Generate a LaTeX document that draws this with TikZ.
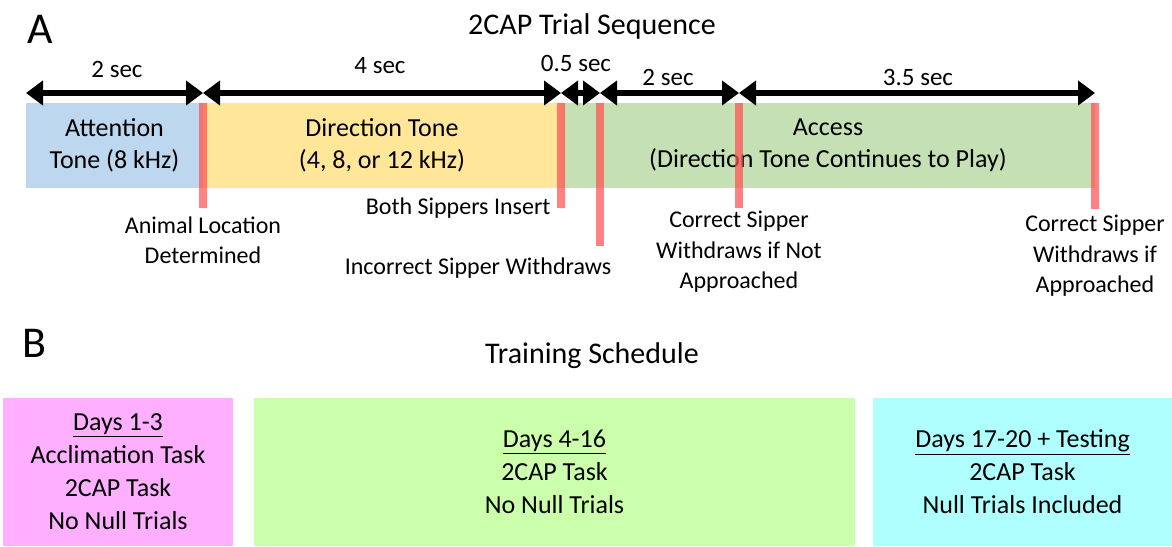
\documentclass[tikz,border=0pt]{standalone}
\usepackage{fontspec}
\setmainfont{Carlito}
\usepackage{tikz}
\usetikzlibrary{arrows.meta}
\definecolor{attblue}{RGB}{189,215,238}
\definecolor{dirgold}{RGB}{255,230,153}
\definecolor{accgreen}{RGB}{197,224,180}
\definecolor{markred}{RGB}{255,80,80}
\definecolor{daypink}{RGB}{255,175,255}
\definecolor{daylime}{RGB}{204,255,172}
\definecolor{daycyan}{RGB}{175,255,255}
\tikzset{
  phase/.style={rectangle, inner sep=0pt, align=center,
    minimum height=85pt, font=\fontsize{26}{32}\selectfont},
  daybox/.style={rectangle, inner sep=0pt, align=center,
    minimum height=148pt, font=\fontsize{26}{33}\selectfont},
  marker/.style={line width=8pt, color=markred, opacity=0.72},
  span/.style={{Triangle[length=17pt,width=24pt]}-{Triangle[length=17pt,width=24pt]},
    line width=6pt, color=black},
  seclabel/.style={anchor=base, font=\fontsize{25}{30}\selectfont},
  event/.style={align=center, font=\fontsize{24}{30.5}\selectfont},
  heading/.style={font=\fontsize{30}{36}\selectfont},
  panel/.style={font=\fontsize{44}{50}\selectfont}
}

\begin{document}
\begin{tikzpicture}[x=1pt, y=-1pt]
  \useasboundingbox (0,0) rectangle (1172,546);

  % Panel A
  \node[panel] (pa) at (40,29) {A};
  \node[heading] (trialttl) at (592,27) {2CAP Trial Sequence};

  % Phase bars
  \node[phase, fill=attblue, minimum width=177pt] (att) at (114.5,145.5) {Attention\\Tone (8 kHz)};
  \node[phase, fill=dirgold, minimum width=358pt] (dir) at (382,145.5) {Direction Tone\\(4, 8, or 12 kHz)};
  \node[phase, fill=accgreen, minimum width=534pt] (acc) at (828,145.5) {Access\\(Direction Tone Continues to Play)};

  % Time points
  \coordinate (t0) at (26,93);
  \coordinate (t1) at (203,93);
  \coordinate (t2) at (561,93);
  \coordinate (t3) at (600,93);
  \coordinate (t4) at (739,93);
  \coordinate (t5) at (1095,93);

  % Durations
  \draw[span] (t0) -- (t1);
  \draw[span] (t1) -- (t2);
  \draw[span] (t2) -- (t3);
  \draw[span] (t3) -- (t4);
  \draw[span] (t4) -- (t5);
  \node[seclabel] (d1) at (117,77) {2 sec};
  \node[seclabel] (d2) at (380,73) {4 sec};
  \node[seclabel] (d3) at (576,71) {0.5 sec};
  \node[seclabel] (d4) at (668,85) {2 sec};
  \node[seclabel] (d5) at (918,85) {3.5 sec};

  % Event markers (red)
  \coordinate (m1) at (203,208);
  \coordinate (m2) at (561,208);
  \coordinate (m3a) at (600,103);
  \coordinate (m3) at (600,246);
  \coordinate (m4a) at (739,103);
  \coordinate (m4) at (739,208);
  \coordinate (m5) at (1095,209);
  \draw[marker] (att.north east) -- (m1);
  \draw[marker] (dir.north east) -- (m2);
  \draw[marker] (m3a) -- (m3);
  \draw[marker] (m4a) -- (m4);
  \draw[marker] (acc.north east) -- (m5);

  % Event labels
  \node[event] (e1) at (203,240.5) {Animal Location\\Determined};
  \node[event, anchor=east] (e2) at (554,208) {Both Sippers Insert};
  \node[event] (e3) at (478,268) {Incorrect Sipper Withdraws};
  \node[event] (e4) at (739,252) {Correct Sipper\\Withdraws if Not\\Approached};
  \node[event] (e5) at (1095,256) {Correct Sipper\\Withdraws if\\Approached};

  % Panel B
  \node[panel] (pb) at (34,343) {B};
  \node[heading] (schedttl) at (592,356) {Training Schedule};

  % Training stages
  \node[daybox, fill=daypink, minimum width=230pt] (s1) at (118,472)
    {\underline{Days 1-3}\\Acclimation Task\\2CAP Task\\No Null Trials};
  \node[daybox, fill=daylime, minimum width=601pt] (s2) at (554.5,472)
    {\underline{Days 4-16}\\2CAP Task\\No Null Trials};
  \node[daybox, fill=daycyan, minimum width=299pt] (s3) at (1022.5,472)
    {\underline{Days 17-20 + Testing}\\2CAP Task\\Null Trials Included};
\end{tikzpicture}
\end{document}
